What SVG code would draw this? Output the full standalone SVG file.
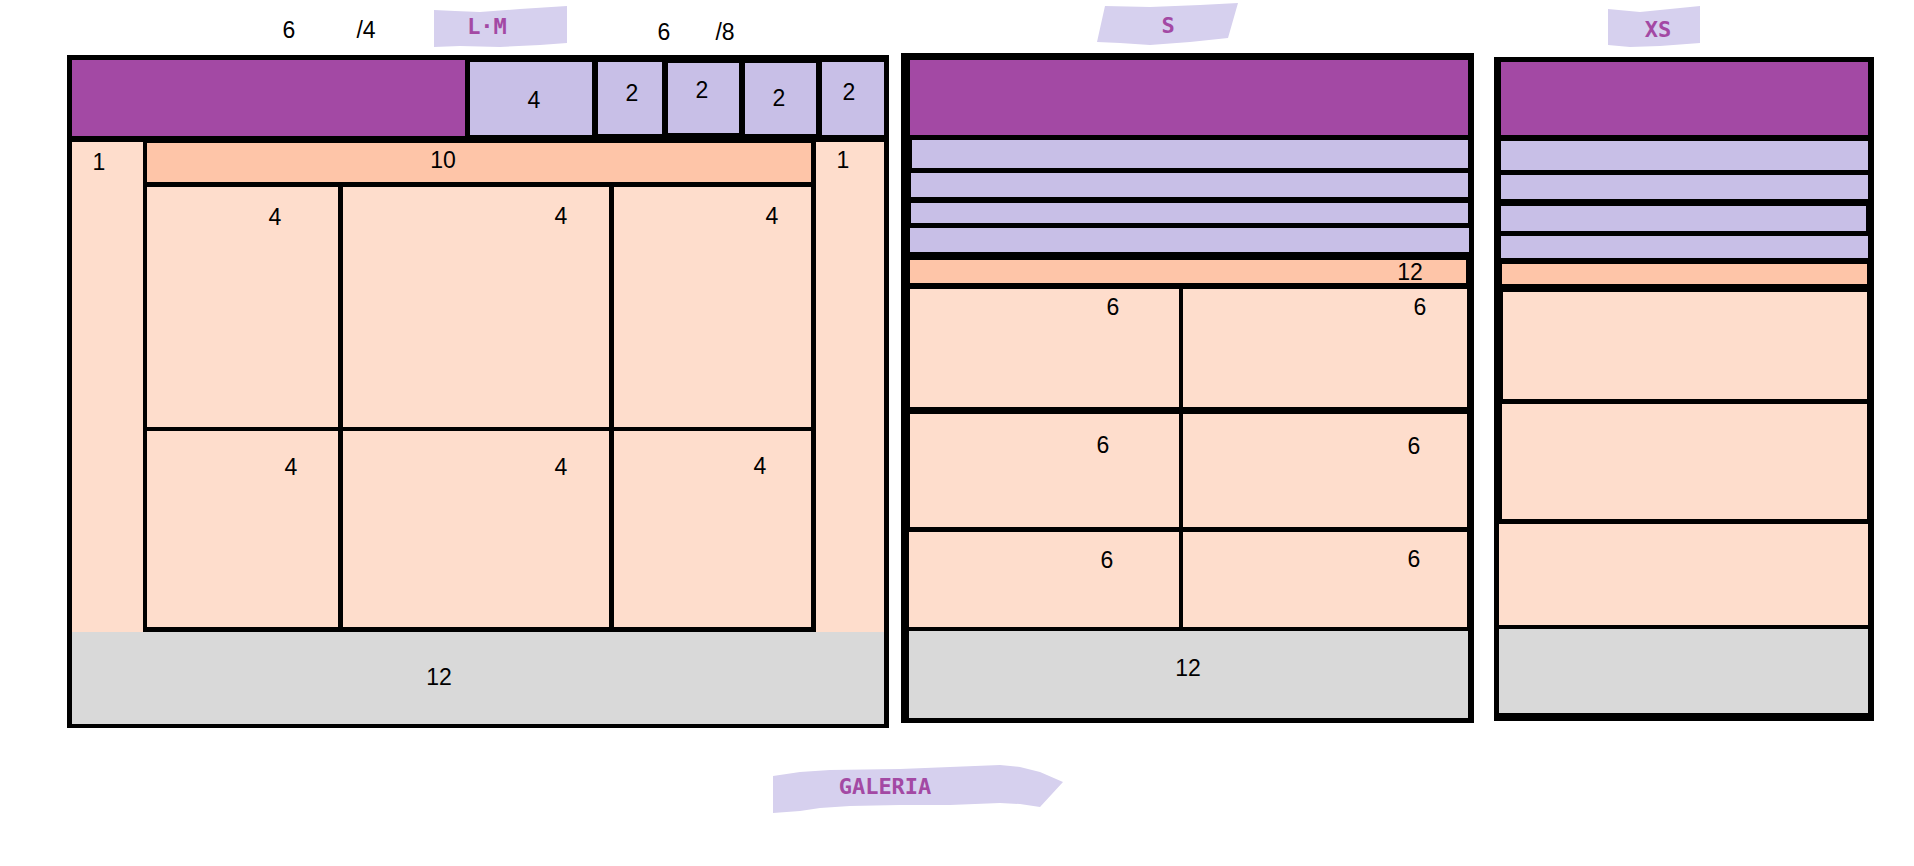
<svg xmlns="http://www.w3.org/2000/svg" width="1914" height="866" viewBox="0 0 1914 866">
<style>
.frame{fill:#000}
.hd{fill:#A349A4}
.lav{fill:#C8BFE7}
.pe{fill:#FEDDCC}
.or{fill:#FEC5A8}
.gr{fill:#D9D9D9}
.bdg{fill:#D6D0EE}
.n{font-family:"Liberation Sans",Arial,sans-serif;font-size:23px;fill:#000;text-anchor:middle}
.t{font-family:"DejaVu Sans Mono","Liberation Mono",monospace;font-weight:bold;font-size:22px;fill:#A349A4;text-anchor:middle}
</style>
<rect width="1914" height="866" fill="#fff"/>
<g id="badges">
<g id="badge-lm"><polygon class="bdg" points="434,10 455,11 480,12 520,9 567,6 567,43 540,45 500,47 460,46 434,47"/><text class="t" x="487" y="34">L·M</text></g>
<g id="badge-s"><polygon class="bdg" points="1105,6 1150,7 1200,5 1238,3 1228,38 1190,42 1150,45 1120,43 1097,42"/><text class="t" x="1168" y="33">S</text></g>
<g id="badge-xs"><polygon class="bdg" points="1608,9 1640,12 1700,6 1700,43 1660,46 1630,47 1608,45"/><text class="t" x="1658" y="37">XS</text></g>
<g id="badge-galeria"><polygon class="bdg" points="773,776 800,772 830,770 900,769 950,767 1000,765 1020,767 1040,772 1063,782 1040,807 1020,804 1000,803 950,805 900,805 850,806 820,808 800,811 773,813"/><text class="t" x="885" y="794">GALERIA</text></g>
</g>
<g id="top-labels">
<text class="n" x="289" y="38">6</text>
<text class="n" x="366" y="38">/4</text>
<text class="n" x="664" y="40">6</text>
<text class="n" x="725" y="40">/8</text>
</g>
<g id="layout-lm">
<rect class="frame" x="67" y="55" width="822" height="673"/>
<g id="lm-header"><rect class="hd" x="72" y="60" width="393" height="76"/></g>
<g id="lm-nav-4"><rect class="lav" x="470" y="62" width="122" height="73"/><text class="n" x="534" y="108">4</text></g>
<g id="lm-nav-2a"><rect class="lav" x="598" y="62" width="64" height="72"/><text class="n" x="632" y="101">2</text></g>
<g id="lm-nav-2b"><rect class="lav" x="668" y="63" width="71" height="70"/><text class="n" x="702" y="98">2</text></g>
<g id="lm-nav-2c"><rect class="lav" x="745" y="63" width="71" height="71"/><text class="n" x="779" y="106">2</text></g>
<g id="lm-nav-2d"><rect class="lav" x="822" y="62" width="62" height="73"/><text class="n" x="849" y="100">2</text></g>
<g id="lm-side-left"><rect class="pe" x="72" y="142" width="71" height="490"/><text class="n" x="99" y="170">1</text></g>
<g id="lm-side-right"><rect class="pe" x="816" y="142" width="68" height="490"/><text class="n" x="843" y="168">1</text></g>
<g id="lm-title"><rect class="or" x="147" y="143" width="664" height="39"/><text class="n" x="443" y="168">10</text></g>
<g id="lm-cell-1"><rect class="pe" x="147" y="187" width="191" height="240"/><text class="n" x="275" y="225">4</text></g>
<g id="lm-cell-2"><rect class="pe" x="343" y="187" width="266" height="240"/><text class="n" x="561" y="224">4</text></g>
<g id="lm-cell-3"><rect class="pe" x="614" y="187" width="197" height="240"/><text class="n" x="772" y="224">4</text></g>
<g id="lm-cell-4"><rect class="pe" x="147" y="431" width="191" height="196"/><text class="n" x="291" y="475">4</text></g>
<g id="lm-cell-5"><rect class="pe" x="343" y="431" width="266" height="196"/><text class="n" x="561" y="475">4</text></g>
<g id="lm-cell-6"><rect class="pe" x="614" y="431" width="197" height="196"/><text class="n" x="760" y="474">4</text></g>
<g id="lm-footer"><rect class="gr" x="72" y="632" width="812" height="92"/><text class="n" x="439" y="685">12</text></g>
</g>
<g id="layout-s">
<rect class="frame" x="901" y="53" width="573" height="670"/>
<g id="s-header"><rect class="hd" x="910" y="60" width="558" height="75"/></g>
<g id="s-nav-1"><rect class="lav" x="912" y="140" width="556" height="28"/></g>
<g id="s-nav-2"><rect class="lav" x="911" y="173" width="557" height="24"/></g>
<g id="s-nav-3"><rect class="lav" x="911" y="203" width="557" height="20"/></g>
<g id="s-nav-4"><rect class="lav" x="910" y="228" width="559" height="24"/></g>
<g id="s-title"><rect class="or" x="910" y="260" width="556" height="23"/><text class="n" x="1410" y="280">12</text></g>
<g id="s-cell-1"><rect class="pe" x="910" y="289" width="269" height="118"/><text class="n" x="1113" y="315">6</text></g>
<g id="s-cell-2"><rect class="pe" x="1183" y="289" width="284" height="118"/><text class="n" x="1420" y="315">6</text></g>
<g id="s-cell-3"><rect class="pe" x="910" y="414" width="269" height="113"/><text class="n" x="1103" y="453">6</text></g>
<g id="s-cell-4"><rect class="pe" x="1183" y="414" width="284" height="113"/><text class="n" x="1414" y="454">6</text></g>
<g id="s-cell-5"><rect class="pe" x="909" y="532" width="270" height="95"/><text class="n" x="1107" y="568">6</text></g>
<g id="s-cell-6"><rect class="pe" x="1183" y="532" width="284" height="95"/><text class="n" x="1414" y="567">6</text></g>
<g id="s-footer"><rect class="gr" x="909" y="631" width="559" height="87"/><text class="n" x="1188" y="676">12</text></g>
</g>
<g id="layout-xs">
<rect class="frame" x="1494" y="57" width="380" height="664"/>
<g id="xs-header"><rect class="hd" x="1501" y="62" width="367" height="73"/></g>
<g id="xs-nav-1"><rect class="lav" x="1501" y="141" width="367" height="29"/></g>
<g id="xs-nav-2"><rect class="lav" x="1501" y="175" width="367" height="24"/></g>
<g id="xs-nav-3"><rect class="lav" x="1501" y="206" width="365" height="25"/></g>
<g id="xs-nav-4"><rect class="lav" x="1501" y="236" width="367" height="22"/></g>
<g id="xs-title"><rect class="or" x="1502" y="264" width="365" height="20"/></g>
<g id="xs-cell-1"><rect class="pe" x="1503" y="292" width="364" height="107"/></g>
<g id="xs-cell-2"><rect class="pe" x="1502" y="404" width="365" height="115"/></g>
<g id="xs-cell-3"><rect class="pe" x="1499" y="524" width="369" height="101"/></g>
<g id="xs-footer"><rect class="gr" x="1499" y="629" width="369" height="84"/></g>
</g>
</svg>
